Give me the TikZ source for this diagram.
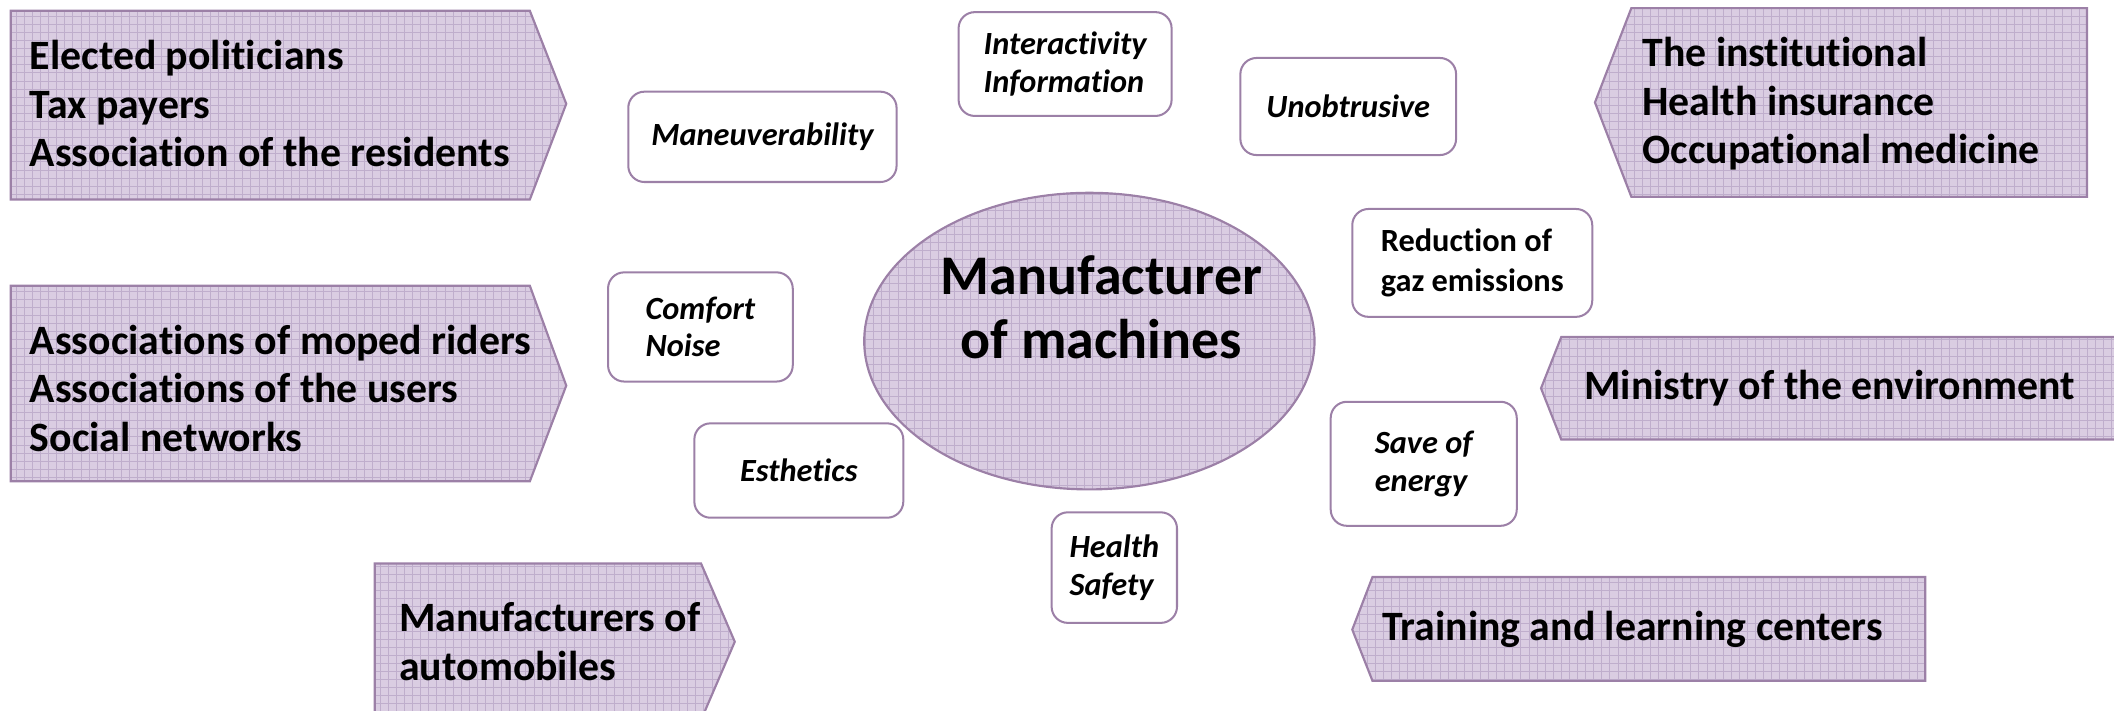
\documentclass[tikz,border=0pt]{standalone}
\usepackage{fontspec}
\setmainfont{Carlito}[Ligatures=NoCommon]
\definecolor{bordc}{HTML}{9C80A7}
\definecolor{fillc}{HTML}{DACDE2}
\definecolor{gridc}{HTML}{BFAECC}
\tikzset{
  stake/.style={draw=bordc, line width=1.6pt, fill=fillc, line join=miter,
    path picture={\draw[gridc, line width=0.5pt, step=6pt]
      ([shift={(-12pt,-12pt)}]path picture bounding box.south west) grid
      ([shift={(12pt,12pt)}]path picture bounding box.north east);}},
  bigtxt/.style={font=\fontsize{31}{36}\selectfont\bfseries, align=left, inner sep=0pt, anchor=west},
  sbox/.style={draw=bordc, line width=1.5pt, fill=white, rounded corners=12pt,
    font=\fontsize{24}{28}\selectfont\bfseries\itshape, align=left, inner sep=0pt},
}
\begin{document}
\begin{tikzpicture}[x=1pt,y=-1pt]
\useasboundingbox (0,0) rectangle (1568,527);
% stakeholder arrows
\path[stake] (8,8) -- (393,8) -- (420,77) -- (393,148) -- (8,148) -- cycle;
\path[stake] (8,212) -- (393,212) -- (420,286) -- (393,357) -- (8,357) -- cycle;
\path[stake] (278,418) -- (520,418) -- (545,476) -- (520,534) -- (278,534) -- cycle;
\path[stake] (1548,6) -- (1210,6) -- (1183,76) -- (1210,146) -- (1548,146) -- cycle;
\path[stake] (1580,250) -- (1158,250) -- (1143,288) -- (1158,326) -- (1580,326) -- cycle;
\path[stake] (1428,428) -- (1018,428) -- (1003,467) -- (1018,505) -- (1428,505) -- cycle;
% central ellipse
\path[stake] (808,253) ellipse [x radius=167pt, y radius=110pt];
\node[font=\fontsize{41.5}{48}\selectfont\bfseries, align=center, inner sep=0pt] (core) at (817,228) {Manufacturer\\of machines};
% stakeholder texts
\node[bigtxt] (t1) at (22,77) {Elected politicians\\Tax payers\\Association of the residents};
\node[bigtxt] (t2) at (22,288) {Associations of moped riders\\Associations of the users\\Social networks};
\node[bigtxt] (t3) at (296,476) {Manufacturers of\\automobiles};
\node[bigtxt] (t4) at (1218,77) {The institutional\\Health insurance\\Occupational medicine};
\node[bigtxt] (t5) at (1175,288) {Ministry of the environment};
\node[bigtxt] (t6) at (1025,467) {Training and learning centers};
% criteria boxes
\node[sbox, minimum width=199pt, minimum height=67pt] (mv) at (565.5,101.5) {Maneuverability};
\node[sbox, minimum width=158pt, minimum height=77pt] (ia) at (790,47.5) {Interactivity\\Information};
\node[sbox, minimum width=160pt, minimum height=72pt] (un) at (1000,79) {Unobtrusive};
\node[sbox, minimum width=137pt, minimum height=81pt] (cn) at (519.5,242.5) {Comfort\\Noise};
\node[sbox, font=\fontsize{24}{29}\selectfont\bfseries, minimum width=178pt, minimum height=80pt] (rg) at (1092,195) {Reduction of\\gaz emissions};
\node[sbox, minimum width=138pt, minimum height=92pt] (se) at (1056,344) {Save of\\energy};
\node[sbox, minimum width=155pt, minimum height=70pt] (es) at (592.5,349) {Esthetics};
\node[sbox, minimum width=93pt, minimum height=82pt] (hs) at (826.5,421) {Health\\Safety};
\end{tikzpicture}
\end{document}
